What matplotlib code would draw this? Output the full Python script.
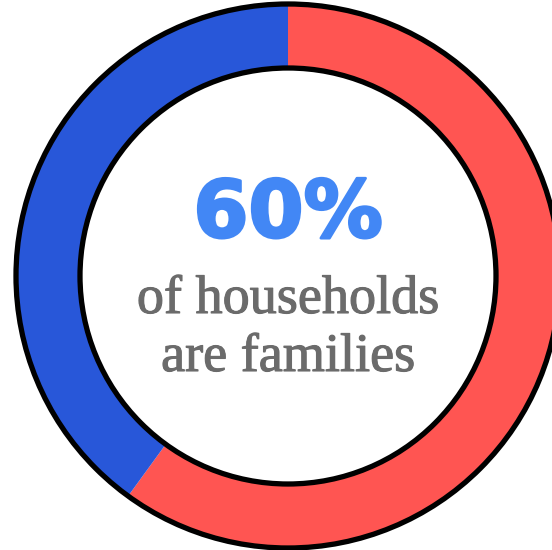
import matplotlib
matplotlib.use("Agg")
import matplotlib.pyplot as plt
import matplotlib.patheffects as pe
from matplotlib.patches import Circle

# share of households
labels = ["Families", "Non-family"]
shares = [60, 40]
colors = ["#FF5552", "#2857D9"]

headline = "60%"
caption = ["of households", "are families"]

W, H = 552, 550
cx, cy = 288, 274
r_out, r_in = 272, 208

fig = plt.figure(figsize=(W / 100, H / 100), dpi=100)
ax = fig.add_axes([0, 0, 1, 1])

ax.pie(shares, colors=colors, startangle=90, counterclock=False,
       center=(cx, cy), radius=r_out,
       wedgeprops=dict(width=r_out - r_in, linewidth=0, antialiased=True))

# black rims on both edges of the ring
for r in (r_out, r_in):
    ax.add_patch(Circle((cx, cy), r, fill=False, edgecolor="black", linewidth=3.8))

ax.text(cx, 335, headline, ha="center", va="center", color="#4287F5",
        fontsize=57, fontweight="bold", family="DejaVu Sans",
        path_effects=[pe.withStroke(linewidth=2, foreground="#4287F5")])
serif = dict(ha="center", va="baseline", color="#6B6B6B", fontsize=39,
             family="Liberation Serif",
             path_effects=[pe.withStroke(linewidth=0.8, foreground="#6B6B6B")])
ax.text(cx, 237, caption[0], **serif)
ax.text(cx, 179, caption[1], **serif)

ax.set_xlim(0, W)
ax.set_ylim(0, H)
ax.set_aspect("auto")
ax.axis("off")

fig.savefig("out.png", dpi=100, facecolor="white")
